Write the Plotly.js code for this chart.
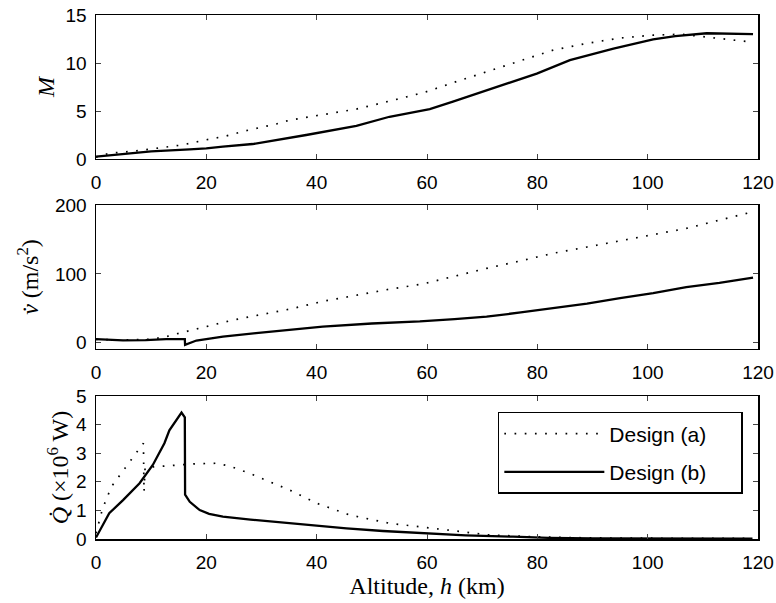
<!DOCTYPE html>
<html><head><meta charset="utf-8">
<script src="https://cdn.plot.ly/plotly-3.0.1.min.js"></script>
<style>html,body{margin:0;padding:0;background:#fff}</style>
</head><body><div id="chart" style="width:776px;height:603px"></div>
<script>
// Mach number vs altitude
const hM_a = [0, 2.4, 6.6, 10, 15.5, 20, 23.6, 27.2, 32.7, 35.1, 41, 47.2, 53, 59.6, 65, 70.8, 77, 82.9, 89, 95, 101, 106, 110, 114, 118.5];
const M_a  = [0.2, 0.6, 0.8, 1.05, 1.45, 2.0, 2.4, 2.95, 3.65, 4.05, 4.6, 5.2, 6.0, 6.95, 8.0, 9.1, 10.3, 11.35, 12.05, 12.6, 12.9, 13.0, 12.75, 12.5, 12.2];
const hM_b = [0, 5, 10, 17, 20, 23, 28.4, 38.1, 47.2, 53.2, 60.5, 64.7, 73.8, 79.9, 85.9, 93.8, 101, 105, 110.7, 119.1];
const M_b  = [0.25, 0.55, 0.8, 1.0, 1.1, 1.28, 1.56, 2.5, 3.44, 4.4, 5.2, 5.97, 7.7, 8.9, 10.3, 11.5, 12.47, 12.8, 13.1, 13.0];
// acceleration vs altitude
const hV_a = [0, 5, 10, 13.3, 15.1, 20, 24.8, 30, 35.1, 41, 47.2, 53, 59.3, 65, 70.8, 77, 82.9, 89, 95, 101, 107, 112, 117.6, 119];
const v_a  = [5, 4, 5, 10, 14, 24, 33, 41, 48.8, 60, 69.6, 77.5, 85.5, 97, 108, 119, 130, 139, 148, 157, 166, 176, 187, 190];
const hV_b = [0, 4.9, 9, 12.7, 16.1, 16.15, 18.2, 23, 29, 35, 41.1, 50, 58.7, 65, 70.8, 77, 82.9, 89, 95, 101, 107, 113, 119.1];
const v_b  = [5.3, 3.4, 4, 5.3, 5.3, -3, 3.3, 9, 14, 19, 23.6, 28, 31, 34.5, 38, 44, 50, 57, 64.7, 72, 80.7, 87, 94.6];
// heat flux vs altitude
const hQ_a = [0, 0.3, 1.2, 2.8, 4.9, 6.7, 7.9, 8.6, 8.7, 8.9, 10.9, 14.5, 18, 21.8, 24.2, 27.8, 32.7, 35.1, 40, 46, 53.2, 59.3, 65.3, 71.4, 79.2, 85, 95, 110, 119];
const Q_a  = [0.2, 0.4, 1.07, 1.83, 2.4, 2.88, 3.17, 3.35, 1.65, 2.5, 2.53, 2.57, 2.63, 2.65, 2.55, 2.3, 1.89, 1.71, 1.25, 0.84, 0.55, 0.41, 0.26, 0.14, 0.08, 0.05, 0.03, 0.02, 0.02];
const hQ_b = [0, 2.4, 4.9, 7.9, 10.3, 11.5, 12.4, 13.3, 14.5, 15.5, 16.1, 16.15, 17, 18.8, 20.5, 23, 28, 35.1, 45.4, 52, 59.9, 67, 75.6, 82, 90, 100, 110, 119];
const Q_b  = [0.05, 0.9, 1.36, 1.95, 2.59, 3.0, 3.35, 3.8, 4.14, 4.42, 4.25, 1.55, 1.3, 1.01, 0.88, 0.78, 0.68, 0.55, 0.37, 0.28, 0.2, 0.13, 0.08, 0.04, 0.02, 0.01, 0.01, 0.01];

const seriesNames = ['Design (a)', 'Design (b)'];
const xTicks = [0, 20, 40, 60, 80, 100, 120];

const dotLine = {color: '#000', width: 1.7, dash: '1.7px,8.5px'};
const solidLine = {color: '#000', width: 2.3};
const pad = '\u00a0\u00a0\u00a0\u00a0\u00a0';

const traces = [
  {x: hM_a, y: M_a, xaxis: 'x', yaxis: 'y', mode: 'lines', line: dotLine, showlegend: false, name: seriesNames[0]},
  {x: hM_b, y: M_b, xaxis: 'x', yaxis: 'y', mode: 'lines', line: solidLine, showlegend: false, name: seriesNames[1]},
  {x: hV_a, y: v_a, xaxis: 'x2', yaxis: 'y2', mode: 'lines', line: dotLine, showlegend: false, name: seriesNames[0]},
  {x: hV_b, y: v_b, xaxis: 'x2', yaxis: 'y2', mode: 'lines', line: solidLine, showlegend: false, name: seriesNames[1]},
  {x: hQ_a, y: Q_a, xaxis: 'x3', yaxis: 'y3', mode: 'lines', line: dotLine, name: seriesNames[0] + pad, legendgroup: 'a'},
  {x: hQ_b, y: Q_b, xaxis: 'x3', yaxis: 'y3', mode: 'lines', line: solidLine, name: seriesNames[1] + pad, legendgroup: 'b'}
];

const tickFont = {family: 'Liberation Sans, Arial, sans-serif', size: 19, color: '#000'};
const titleFont = {family: 'Liberation Serif, Times New Roman, serif', size: 24, color: '#000'};

function xax(anchor, withTitle) {
  const a = {
    anchor: anchor, range: [0, 120], tickvals: xTicks, ticks: 'inside', ticklen: 5, tickwidth: 1,
    showline: true, linewidth: 1.5, linecolor: '#000', mirror: 'ticks', showgrid: false, zeroline: false,
    tickfont: tickFont, ticklabelstandoff: 6
  };
  if (withTitle) a.title = {text: 'Altitude, <i>h</i> (km)', font: titleFont, standoff: 0};
  return a;
}
function yax(anchor, domain, range, tickvals, title, standoff) {
  return {
    anchor: anchor, domain: domain, range: range, tickvals: tickvals, ticks: 'inside', ticklen: 5, tickwidth: 1,
    showline: true, linewidth: 1.5, linecolor: '#000', mirror: 'ticks', showgrid: false, zeroline: false,
    tickfont: tickFont, ticklabelstandoff: 4,
    title: {text: title, font: titleFont, standoff: standoff}
  };
}

const layout = {
  width: 776, height: 603,
  margin: {l: 96, r: 18, t: 15, b: 64},
  paper_bgcolor: '#fff', plot_bgcolor: '#fff',
  showlegend: true,
  xaxis: xax('y', false),
  xaxis2: xax('y2', false),
  xaxis3: xax('y3', true),
  yaxis: yax('x', [0.7252, 1], [0, 15], [0, 5, 10, 15], '<i>M</i>', 4),
  yaxis2: yax('x2', [0.3626, 0.6374], [-9, 200], [0, 100, 200], '<i>v̇</i> (m/s<sup>2</sup>)', 9),
  yaxis3: yax('x3', [0, 0.2729], [0, 5], [0, 1, 2, 3, 4, 5], '<i>Q̇</i> (×10<sup>6</sup> W)', 0),
  legend: {
    x: 0.607, y: 0.2424, xanchor: 'left', yanchor: 'top',
    bordercolor: '#000', borderwidth: 1.5, bgcolor: '#fff',
    font: {family: 'Liberation Sans, Arial, sans-serif', size: 21, color: '#000'},
    traceorder: 'grouped', tracegroupgap: 8, itemwidth: 100
  }
};

Plotly.newPlot('chart', traces, layout, {staticPlot: true});
</script>
</body></html>
